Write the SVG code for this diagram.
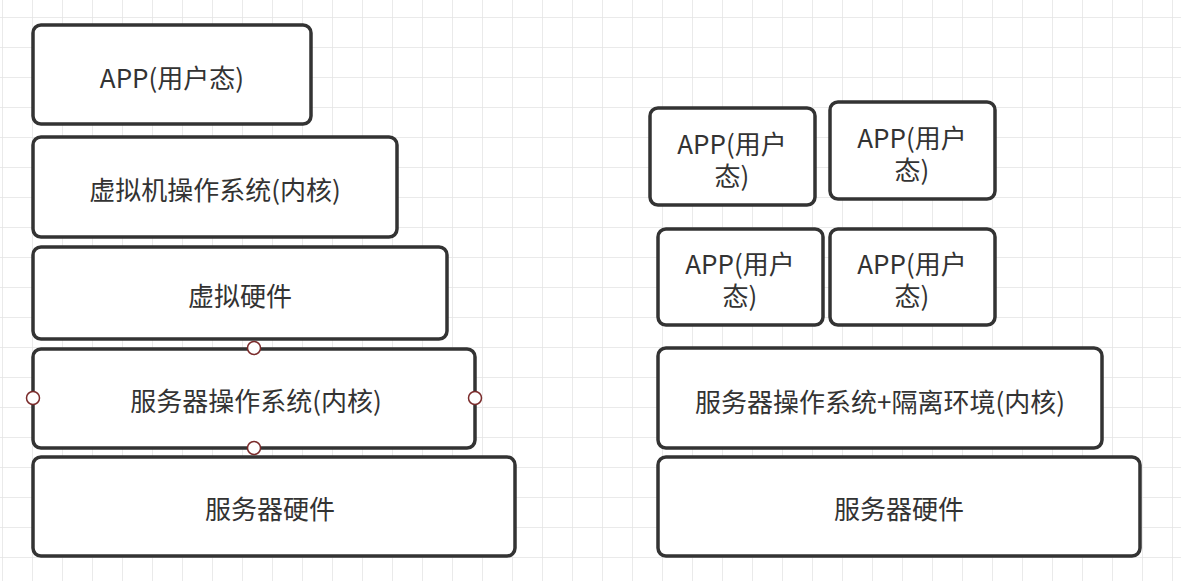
<svg xmlns="http://www.w3.org/2000/svg" width="1181" height="581" viewBox="0 0 1181 581">
  <defs>
    <pattern id="grid" patternUnits="userSpaceOnUse" x="2" y="17" width="30" height="30">
      <path d="M0 0H30M0 0V30" fill="none" stroke="#e4e4e4" stroke-width="1.5"/>
    </pattern>
    <style>
      .box { fill: #ffffff; stroke: #333333; stroke-width: 3.5; }
      .lbl { font-family: "Noto Sans CJK SC", "Noto Sans", sans-serif; font-size: 26px; fill: #333333; text-anchor: middle; dominant-baseline: central; }
      .handle { fill: #ffffff; stroke: #7a2b2b; stroke-width: 1.5; }
    </style>
  </defs>

  <!-- canvas -->
  <rect width="1181" height="581" fill="#ffffff"/>
  <rect width="1181" height="581" fill="url(#grid)"/>

  <!-- left stack: virtual machine -->
  <g id="vm-app">
    <rect class="box" x="33" y="25" width="278" height="99" rx="8"/>
    <text class="lbl" x="172" y="76">APP(用户态)</text>
  </g>
  <g id="vm-guest-os">
    <rect class="box" x="33" y="137" width="364" height="100" rx="8"/>
    <text class="lbl" x="215" y="188">虚拟机操作系统(内核)</text>
  </g>
  <g id="vm-virtual-hw">
    <rect class="box" x="33" y="247" width="414" height="92" rx="8"/>
    <text class="lbl" x="240" y="294">虚拟硬件</text>
  </g>
  <g id="vm-host-os">
    <rect class="box" x="33" y="349" width="442" height="99" rx="8"/>
    <text class="lbl" x="256" y="399">服务器操作系统(内核)</text>
  </g>
  <g id="vm-host-hw">
    <rect class="box" x="33" y="457" width="482" height="99" rx="8"/>
    <text class="lbl" x="270" y="507">服务器硬件</text>
  </g>

  <!-- right stack: containers -->
  <g id="ct-app-1">
    <rect class="box" x="650" y="108" width="165" height="97" rx="8"/>
    <text class="lbl" x="732" y="142">APP(用户<tspan x="732" dy="32">态)</tspan></text>
  </g>
  <g id="ct-app-2">
    <rect class="box" x="830" y="102" width="165" height="97" rx="8"/>
    <text class="lbl" x="912" y="136">APP(用户<tspan x="912" dy="32">态)</tspan></text>
  </g>
  <g id="ct-app-3">
    <rect class="box" x="658" y="229" width="165" height="96" rx="8"/>
    <text class="lbl" x="740" y="262">APP(用户<tspan x="740" dy="32">态)</tspan></text>
  </g>
  <g id="ct-app-4">
    <rect class="box" x="830" y="229" width="165" height="96" rx="8"/>
    <text class="lbl" x="912" y="262">APP(用户<tspan x="912" dy="32">态)</tspan></text>
  </g>
  <g id="ct-host-os">
    <rect class="box" x="658" y="348" width="444" height="100" rx="8"/>
    <text class="lbl" x="880" y="400">服务器操作系统+隔离环境(内核)</text>
  </g>
  <g id="ct-host-hw">
    <rect class="box" x="658" y="457" width="482" height="99" rx="8"/>
    <text class="lbl" x="899" y="507">服务器硬件</text>
  </g>

  <!-- connection handles on the selected shape -->
  <g id="connectors">
    <circle class="handle" cx="254" cy="348" r="6.5"/>
    <circle class="handle" cx="33" cy="398" r="6.5"/>
    <circle class="handle" cx="475" cy="398" r="6.5"/>
    <circle class="handle" cx="254" cy="448" r="6.5"/>
  </g>
</svg>
